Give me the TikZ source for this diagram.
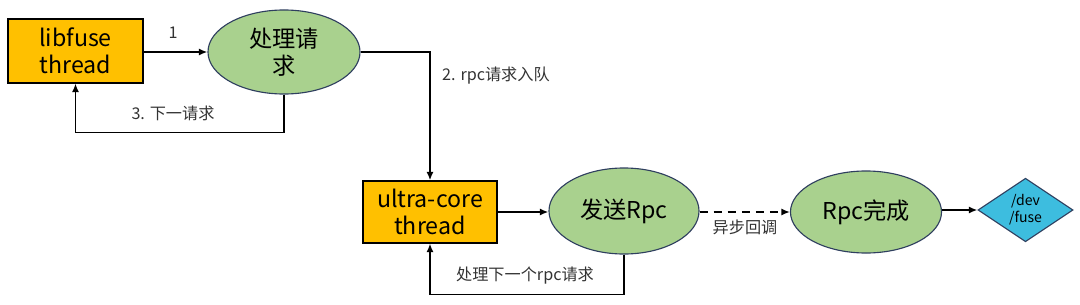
\documentclass[tikz,border=0pt]{standalone}
\usepackage{fontspec}
\setmainfont{Noto Sans CJK SC}
\usepackage{xcolor}
\usepackage{tikz}
\usetikzlibrary{shapes.geometric,arrows.meta,positioning,calc}

\definecolor{boxorange}{HTML}{FFC000}
\definecolor{ovalgreen}{HTML}{A9D18E}
\definecolor{ovalline}{HTML}{2F3F5F}
\definecolor{devblue}{HTML}{3DBDDF}
\definecolor{lbltext}{HTML}{333333}

\begin{document}
\begin{tikzpicture}[
    x=0.025cm, y=-0.025cm,
    font=\fontsize{16.5}{19.5}\selectfont,
    threadbox/.style={rectangle, draw=black, line width=0.9pt, fill=boxorange, align=center, inner sep=0pt},
    stepoval/.style={ellipse, draw=ovalline, line width=0.8pt, fill=ovalgreen, align=center, inner sep=0pt},
    devnode/.style={diamond, draw=ovalline, line width=0.8pt, fill=devblue, align=center, inner sep=0pt, font=\fontsize{10}{12}\selectfont},
    lbl/.style={text=lbltext, font=\fontsize{11.5}{14}\selectfont},
    arrow/.style={-{Latex[length=6pt,width=5pt]}, line width=1.3pt, draw=black},
    loop/.style={-{Latex[length=6pt,width=5pt]}, line width=1pt, draw=black}
]
    \useasboundingbox (0,0) rectangle (1080,304);

    % nodes
    \node (libfuse) [threadbox, minimum width=3.375cm, minimum height=1.6cm] at (75.5,51) {libfuse\\thread};
    \node (handle) [stepoval, minimum width=3.8cm, minimum height=2.1cm] at (284,52) {处理请\\求};
    \node (ultra) [threadbox, minimum width=3.35cm, minimum height=1.55cm] at (430,212) {ultra-core\\thread};
    \node (send) [stepoval, minimum width=3.75cm, minimum height=2.15cm] at (624,211) {发送Rpc};
    \node (done) [stepoval, minimum width=3.775cm, minimum height=2.05cm] at (866,212) {Rpc完成};
    \node (dev) [devnode, minimum width=2.375cm, minimum height=1.325cm] at (1025.5,210) {/dev\\/fuse};

    % connectors
    \draw [arrow] (libfuse.east |- handle.west) -- (handle.west);
    \draw [arrow] (handle.east) -| (ultra.north);
    \draw [loop] (handle.south) -- ++(0,38) -| (libfuse.south);
    \draw [arrow] (ultra.east) -- (ultra.east -| send.west);
    \draw [loop] (send.south) -- ++(0,40) -| (ultra.south);
    \draw [arrow, dashed, dash pattern=on 6pt off 4pt] (send.east |- done.west) -- (done.west);
    \draw [arrow] (done.east |- dev.west) -- (dev.west);

    % labels
    \node (l1) [lbl] at (173,33) {1};
    \node (l2) [lbl] at (496,76) {2. rpc请求入队};
    \node (l3) [lbl] at (173,113) {3. 下一请求};
    \node (l4) [lbl] at (525,276) {处理下一个rpc请求};
    \node (l5) [lbl] at (745,227) {异步回调};
\end{tikzpicture}
\end{document}
